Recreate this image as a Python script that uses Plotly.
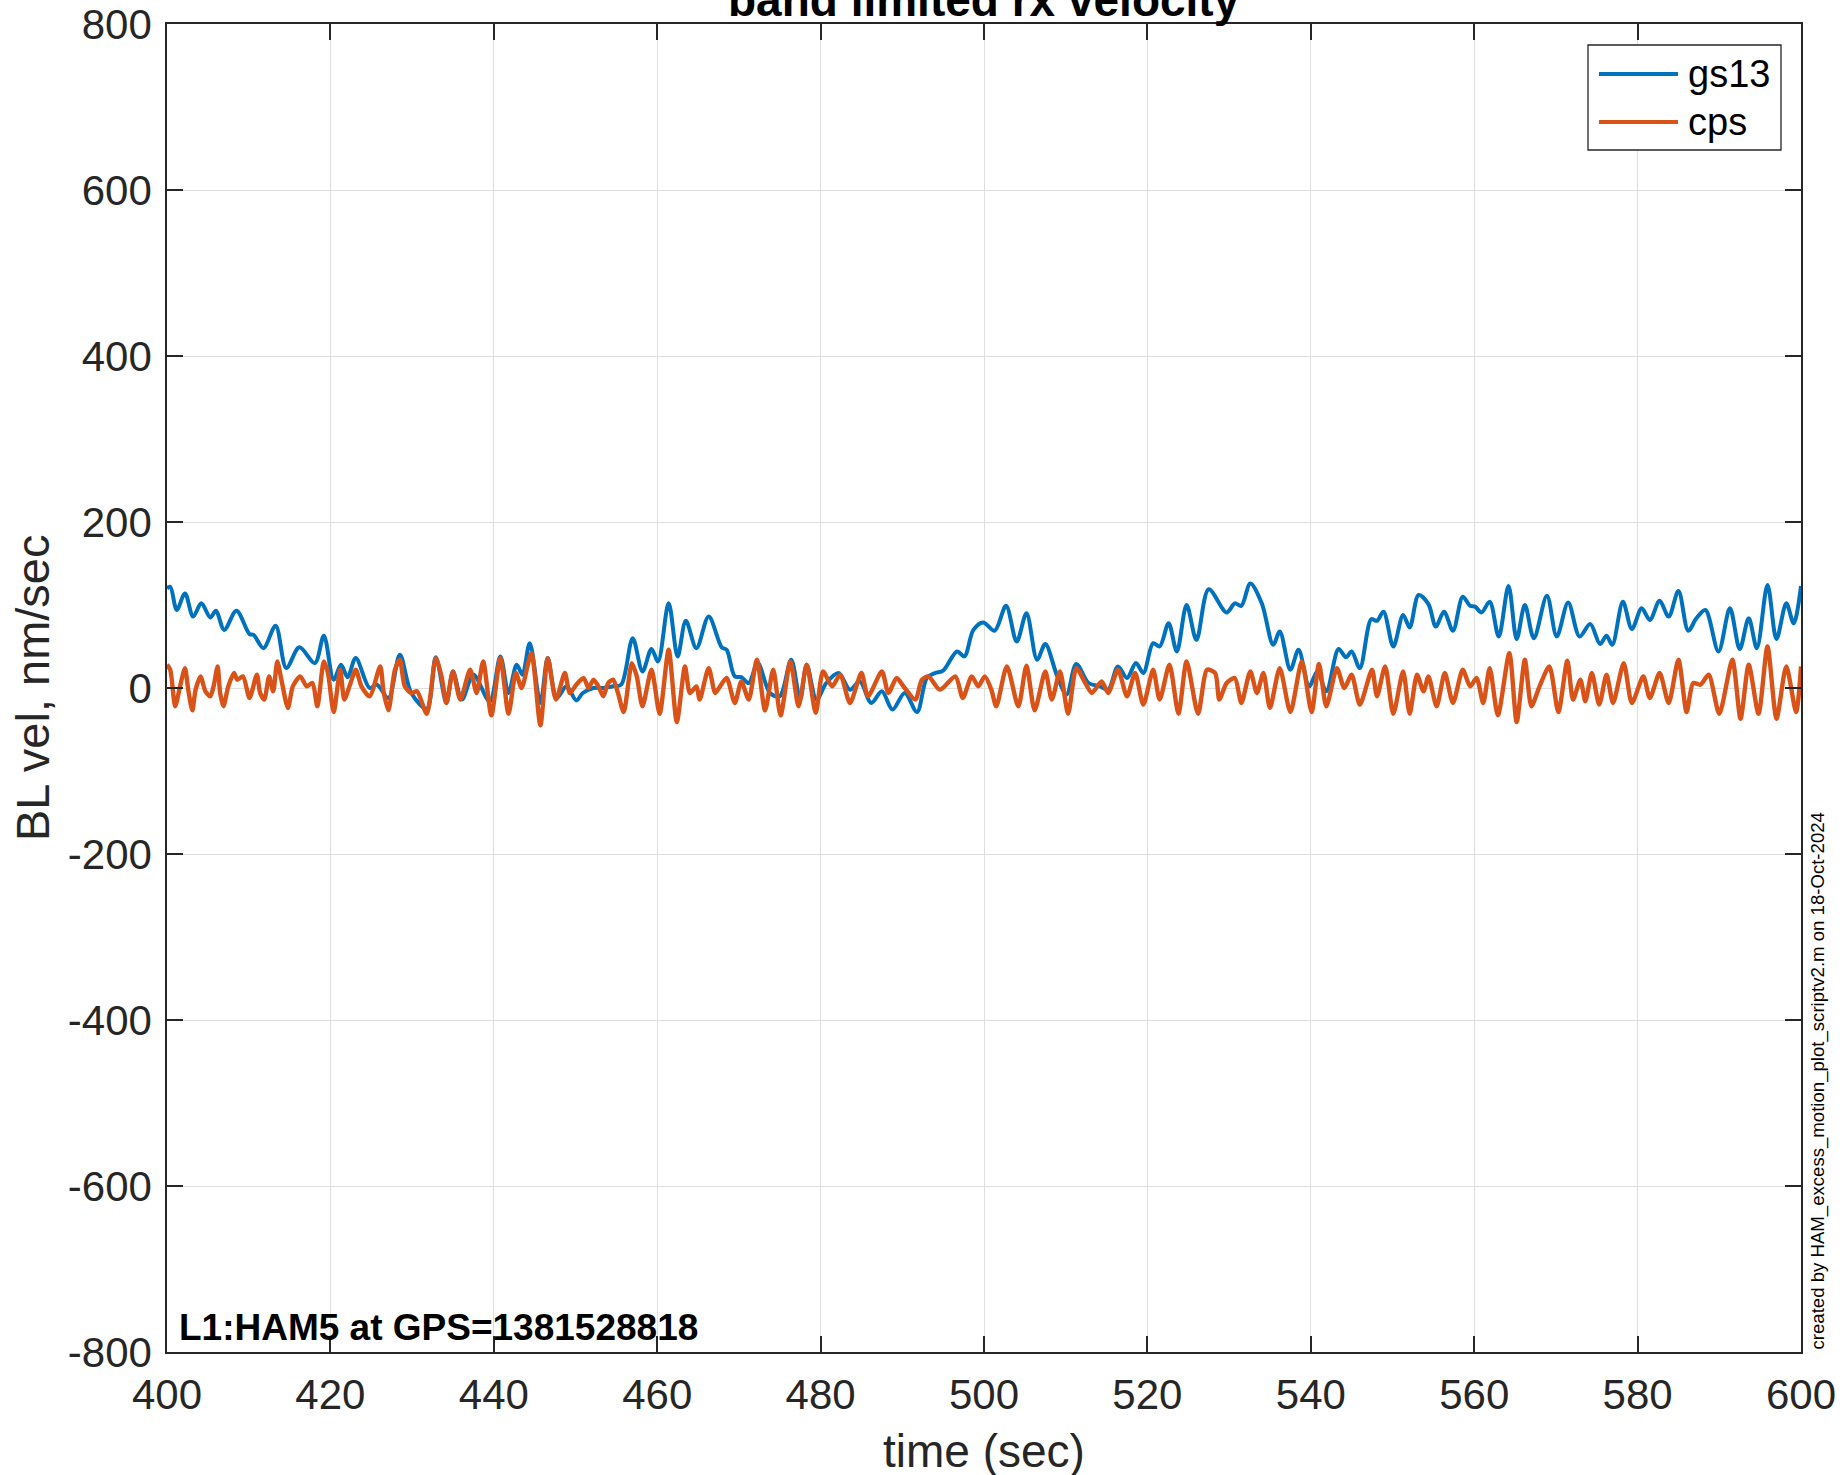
import plotly.graph_objects as go

# ---------------- data ----------------
gs13_t = [400.0, 400.4, 401.2, 402.2, 403.2, 404.2, 405.3, 406.0, 407.0, 408.5,
          410.1, 410.6, 411.8, 413.3, 414.6, 416.2, 418.1, 419.2, 420.4, 421.3,
          422.1, 423.1, 424.8, 425.7, 427.1, 428.5, 429.9, 431.8, 432.9, 434.2,
          435.0, 436.1, 437.5, 439.5, 440.8, 441.8, 442.8, 443.5, 444.4, 445.7,
          446.6, 447.7, 448.9, 450.1, 450.9, 452.2, 453.4, 454.6, 455.6, 457.0,
          458.2, 459.3, 460.1, 461.4, 462.5, 463.5, 464.8, 466.3, 467.9, 468.5,
          469.5, 470.3, 471.2, 472.3, 473.8, 475.0, 476.4, 477.5, 478.3, 479.5,
          480.7, 482.2, 483.6, 484.8, 486.2, 487.5, 488.8, 490.3, 491.8, 493.0,
          494.0, 495.0, 496.7, 497.6, 498.7, 499.9, 501.3, 502.7, 504.0, 505.2,
          506.5, 507.5, 508.9, 510.1, 511.3, 512.8, 514.2, 515.2, 516.4, 517.5,
          518.6, 519.5, 520.7, 521.5, 522.6, 523.6, 524.8, 526.0, 527.5, 529.7,
          530.7, 531.5, 532.6, 534.0, 535.4, 536.2, 537.5, 538.5, 539.8, 540.8,
          541.9, 543.4, 544.3, 545.0, 546.0, 547.4, 548.1, 548.9, 550.1, 551.3,
          552.1, 553.2, 554.4, 555.3, 556.3, 557.4, 558.6, 559.5, 560.1, 560.9,
          561.9, 563.0, 564.2, 565.2, 566.2, 567.3, 568.9, 570.1, 571.5, 572.9,
          574.2, 575.4, 576.2, 576.9, 578.2, 579.3, 580.5, 581.5, 582.7, 583.8,
          585.0, 586.2, 587.2, 588.3, 589.9, 591.3, 592.5, 593.6, 594.6, 595.9,
          597.0, 598.2, 599.1, 600.0]
gs13_v = [120, 122, 94, 114, 86, 102, 85, 93, 70, 93,
          65, 64, 48, 75, 24, 49, 30, 63, 10, 28,
          13, 36, 0, 4, -12, 40, -6, -25, 37, -18,
          20, -14, 16, -16, 38, -6, 28, 16, 54, -18,
          36, -12, 2, -15, -6, 0, 0, 2, 4, 60,
          20, 47, 32, 102, 38, 81, 48, 86, 49, 46,
          14, 13, 6, 30, -6, -10, 34, -14, 28, -14,
          6, 18, -2, 8, -18, -4, -26, -6, -29, 12,
          18, 21, 44, 38, 70, 79, 69, 99, 56, 90,
          34, 53, 16, -8, 29, 6, 2, -2, 26, 12,
          30, 18, 54, 50, 78, 44, 100, 58, 119, 91,
          102, 99, 126, 102, 52, 68, 22, 46, 2, 20,
          -4, 47, 37, 44, 24, 83, 81, 92, 50, 88,
          73, 112, 101, 74, 92, 69, 110, 99, 98, 91,
          104, 62, 123, 59, 100, 60, 111, 62, 103, 62,
          77, 53, 63, 52, 104, 71, 96, 82, 105, 86,
          117, 69, 84, 94, 44, 96, 47, 84, 48, 124,
          59, 102, 78, 123]

cps_t = [400.0, 400.4, 401.0, 401.6, 402.2, 402.6, 403.1, 403.5, 404.1, 404.7,
         405.3, 405.7, 406.2, 406.5, 406.9, 407.5, 408.2, 408.6, 409.3, 410.1,
         411.0, 411.4, 411.9, 412.5, 413.0, 413.5, 414.0, 414.8, 415.4, 416.3,
         417.1, 417.8, 418.4, 419.2, 419.7, 420.4, 421.2, 421.7, 422.4, 423.1,
         423.8, 424.8, 426.1, 426.5, 427.1, 427.9, 428.5, 429.1, 429.9, 430.6,
         431.8, 432.9, 433.6, 434.2, 435.0, 435.9, 437.1, 437.9, 438.7, 439.7,
         440.8, 441.8, 442.7, 443.4, 444.6, 445.7, 446.6, 447.6, 448.7, 449.3,
         450.1, 451.0, 451.6, 452.2, 452.8, 453.4, 454.0, 454.6, 455.2, 455.9,
         456.9, 457.5, 458.2, 459.3, 460.3, 461.4, 462.4, 463.4, 464.0, 464.8,
         465.2, 466.3, 467.1, 467.7, 468.5, 469.5, 470.3, 471.2, 472.2, 473.2,
         474.2, 475.1, 476.3, 477.3, 478.3, 479.4, 480.3, 481.4, 482.4, 483.6,
         485.0, 485.8, 487.5, 488.3, 489.3, 490.3, 491.6, 492.4, 493.2, 494.6,
         496.5, 497.4, 498.5, 499.3, 500.1, 500.9, 501.5, 502.8, 504.2, 505.2,
         506.2, 507.5, 508.3, 509.3, 510.3, 511.3, 512.4, 513.2, 514.4, 515.2,
         516.4, 517.5, 518.5, 519.5, 520.7, 521.5, 522.7, 523.8, 524.8, 526.2,
         527.3, 528.3, 528.8, 529.7, 530.7, 531.5, 532.6, 533.4, 534.2, 535.0,
         536.2, 537.5, 538.9, 540.1, 541.0, 541.9, 543.2, 544.1, 545.0, 546.0,
         547.5, 548.1, 549.1, 550.1, 551.3, 552.1, 553.0, 553.8, 554.4, 555.4,
         556.4, 557.4, 558.6, 559.5, 560.3, 561.1, 561.9, 562.9, 564.3, 565.2,
         566.2, 567.0, 568.0, 569.2, 570.3, 571.4, 572.1, 573.0, 573.6, 574.4,
         575.3, 576.2, 577.0, 578.3, 579.3, 580.7, 581.5, 582.7, 583.8, 585.0,
         586.0, 586.8, 587.7, 588.7, 590.0, 591.6, 592.6, 593.6, 594.8, 595.9,
         597.0, 598.2, 599.4, 600.0]
cps_v = [28, 22, -22, 2, 24, -2, -27, -2, 14, -4,
         -10, 2, 26, -6, -22, 2, 18, 10, 14, -12,
         16, -6, -14, 14, -4, 32, 10, -24, 2, 14,
         2, 6, -22, 32, 18, -29, 22, -14, 4, 22,
         2, -10, 26, -4, -27, 22, 34, 2, -6, -4,
         -31, 36, 14, -18, 20, -14, 22, -6, 32, -33,
         36, -31, 18, 0, 42, -45, 36, -14, 18, -6,
         4, 12, 0, 10, 2, -10, 6, 10, -6, -29,
         30, 14, -22, 22, -31, 46, -41, 26, -6, 2,
         -14, 24, -6, 2, 12, -18, 8, -14, 34, -27,
         22, -33, 32, -22, 28, -30, 20, 2, 16, -18,
         18, -10, 20, -6, 12, 0, -14, 10, 14, -2,
         14, -12, 14, 2, 14, -2, -22, 26, -22, 27,
         -27, 20, -14, 20, -31, 24, 6, -6, 8, -6,
         22, -10, 18, -20, 22, -14, 28, -31, 32, -31,
         22, 18, -14, 6, 12, -18, 20, -6, 18, -24,
         24, -29, 32, -29, 29, -22, 24, 0, 16, -20,
         22, -10, 26, -31, 20, -31, 16, -4, 14, -22,
         18, -18, 22, 2, 12, -18, 24, -33, 42, -41,
         34, -22, 2, 26, -29, 33, -14, 10, -16, 18,
         -20, 16, -18, 30, -18, 14, -12, 18, -18, 34,
         -29, 6, 4, 16, -31, 34, -37, 28, -31, 50,
         -37, 26, -29, 26]

x_ticks = [400, 420, 440, 460, 480, 500, 520, 540, 560, 580, 600]
y_ticks = [-800, -600, -400, -200, 0, 200, 400, 600, 800]

title_text = "band limited rx velocity"
x_label = "time (sec)"
y_label = "BL vel, nm/sec"
info_text = "L1:HAM5 at GPS=1381528818"
credit_text = "created by HAM_excess_motion_plot_scriptv2.m on 18-Oct-2024"
series_names = ["gs13", "cps"]
series_colors = ["#0072BD", "#D95319"]

# ---------------- layout geometry (pixels) ----------------
W, H = 1845, 1475
L, R, T, B = 167, 1801, 24, 1352
FONT = "Liberation Sans, Arial, Helvetica, sans-serif"
AX = "#262626"


def px(x):
    return (x - L) / (R - L)


def py(y):
    return (B - y) / (B - T)


fig = go.Figure()
fig.add_trace(go.Scatter(x=gs13_t, y=gs13_v, mode="lines", name=series_names[0],
                         line=dict(color=series_colors[0], width=4.0, shape="spline", smoothing=0.9),
                         showlegend=False))
fig.add_trace(go.Scatter(x=cps_t, y=cps_v, mode="lines", name=series_names[1],
                         line=dict(color=series_colors[1], width=4.4, shape="spline", smoothing=0.7),
                         showlegend=False))

axis_common = dict(showgrid=True, gridcolor="#dfdfdf", gridwidth=1.2,
                   showline=True, linecolor=AX, linewidth=1.5, mirror="allticks",
                   ticks="inside", ticklen=16, tickwidth=1.5, tickcolor=AX,
                   ticklabelstandoff=5, automargin=False,
                   tickfont=dict(family=FONT, size=42, color=AX), zeroline=False)

fig.update_xaxes(range=[400, 600], tickmode="array", tickvals=x_ticks,
                 ticktext=[str(v) for v in x_ticks], **axis_common)
fig.update_yaxes(range=[-800, 800], tickmode="array", tickvals=y_ticks,
                 ticktext=[str(v) for v in y_ticks], **axis_common)

annotations = [
    dict(text="<b>" + title_text + "</b>", x=0.5, y=py(28), xref="paper", yref="paper",
         xanchor="center", yanchor="bottom", showarrow=False,
         font=dict(family=FONT, size=46, color="#000000")),
    dict(text=x_label, x=0.5, y=py(1451), xref="paper", yref="paper",
         xanchor="center", yanchor="middle", showarrow=False,
         font=dict(family=FONT, size=46, color=AX)),
    dict(text=y_label, x=px(32), y=0.5, xref="paper", yref="paper",
         xanchor="center", yanchor="middle", showarrow=False, textangle=-90,
         font=dict(family=FONT, size=47, color=AX)),
    dict(text="<b>" + info_text + "</b>", x=px(177), y=py(1350), xref="paper", yref="paper",
         xanchor="left", yanchor="bottom", showarrow=False,
         font=dict(family=FONT, size=37, color="#000000")),
    dict(text=credit_text, x=px(1817), y=0, xref="paper", yref="paper",
         xanchor="center", yanchor="bottom", showarrow=False, textangle=-90,
         font=dict(family=FONT, size=18.6, color="#000000")),
]

# legend box drawn manually to mimic MATLAB legend
shapes = [
    dict(type="rect", xref="paper", yref="paper", x0=px(1588), x1=px(1781),
         y0=py(150), y1=py(45), line=dict(color=AX, width=1.3), fillcolor="white", layer="above"),
]
legend_rows = [74, 122]
for name, color, yrow in zip(series_names, series_colors, legend_rows):
    shapes.append(dict(type="line", xref="paper", yref="paper", x0=px(1599), x1=px(1678),
                       y0=py(yrow), y1=py(yrow), line=dict(color=color, width=4.0), layer="above"))
    annotations.append(dict(text=name, x=px(1686), y=py(yrow), xref="paper", yref="paper",
                            xanchor="left", yanchor="middle", showarrow=False,
                            font=dict(family=FONT, size=38, color="#000000")))

fig.update_layout(width=W, height=H, autosize=False,
                  margin=dict(l=L, r=W - R, t=T, b=H - B, pad=0, autoexpand=False),
                  paper_bgcolor="white", plot_bgcolor="white",
                  font=dict(family=FONT, color=AX),
                  annotations=annotations, shapes=shapes, showlegend=False)

fig.write_html("out.html",
               config={"displayModeBar": False},
               post_script="document.body.style.margin='0';document.body.style.overflow='hidden';")
